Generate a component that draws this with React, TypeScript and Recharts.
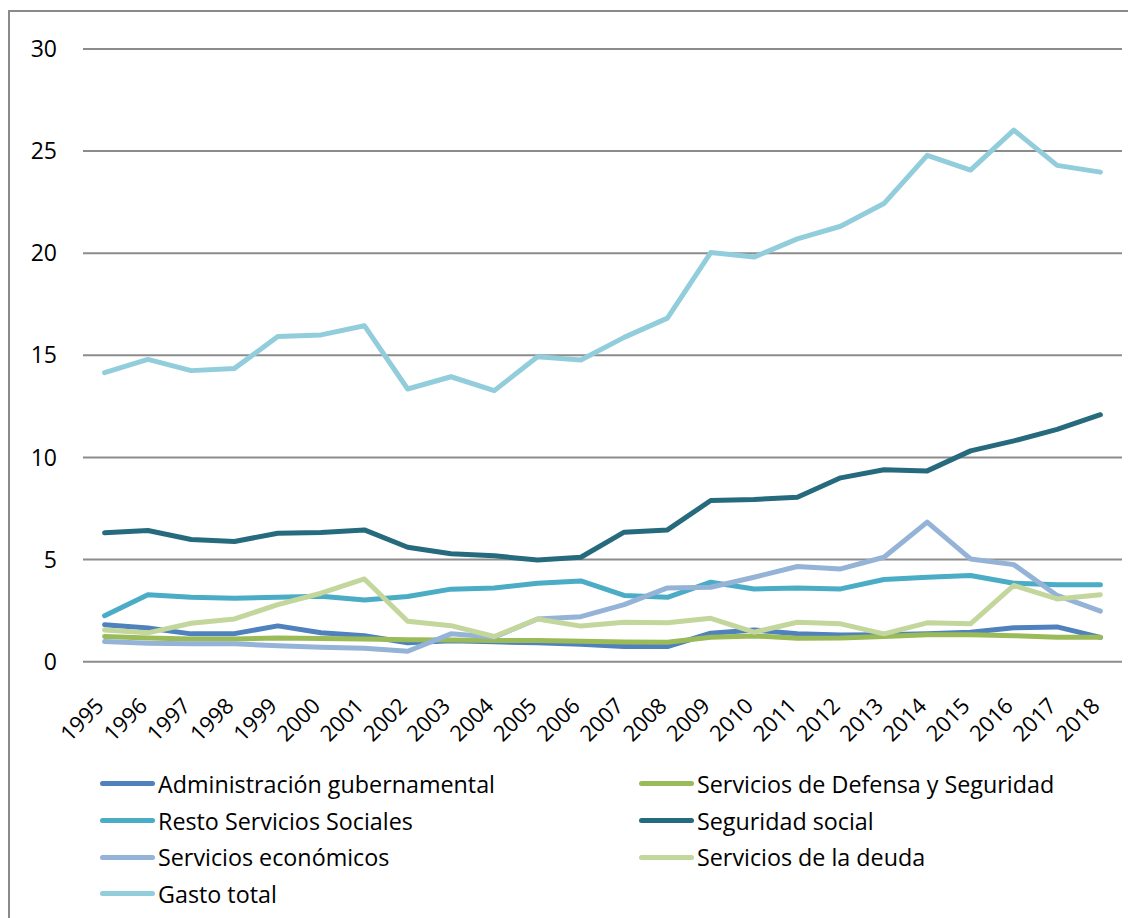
import React from 'react'
import { LineChart, Line, XAxis, YAxis, CartesianGrid, Legend } from 'recharts'

const years = ['1995', '1996', '1997', '1998', '1999', '2000', '2001', '2002', '2003', '2004', '2005', '2006',
    '2007', '2008', '2009', '2010', '2011', '2012', '2013', '2014', '2015', '2016', '2017', '2018']

const admin = [1.81, 1.65, 1.36, 1.37, 1.75, 1.41, 1.27, 0.92, 1.02, 0.97, 0.92, 0.85, 0.74, 0.74, 1.39, 1.55, 1.36, 1.3, 1.32, 1.36, 1.44, 1.66, 1.7, 1.19]
const defensa = [1.23, 1.16, 1.11, 1.11, 1.16, 1.13, 1.11, 1.07, 1.06, 1.03, 1.03, 1.0, 0.96, 0.95, 1.19, 1.26, 1.14, 1.16, 1.23, 1.32, 1.32, 1.27, 1.19, 1.19]
const resto = [2.25, 3.28, 3.15, 3.1, 3.15, 3.2, 3.02, 3.19, 3.55, 3.61, 3.84, 3.95, 3.24, 3.15, 3.89, 3.56, 3.61, 3.56, 4.02, 4.13, 4.22, 3.84, 3.77, 3.77]
const seguridad = [6.31, 6.42, 5.98, 5.88, 6.29, 6.32, 6.45, 5.6, 5.28, 5.18, 4.98, 5.11, 6.34, 6.45, 7.89, 7.94, 8.05, 9.0, 9.4, 9.34, 10.32, 10.81, 11.37, 12.09]
const economicos = [0.98, 0.9, 0.87, 0.87, 0.78, 0.7, 0.65, 0.51, 1.36, 1.2, 2.09, 2.2, 2.79, 3.61, 3.64, 4.13, 4.66, 4.54, 5.11, 6.83, 5.03, 4.75, 3.24, 2.47]
const deuda = [1.55, 1.41, 1.88, 2.09, 2.79, 3.35, 4.05, 1.98, 1.76, 1.23, 2.09, 1.74, 1.93, 1.9, 2.12, 1.44, 1.93, 1.85, 1.36, 1.9, 1.85, 3.73, 3.07, 3.28]
const gasto = [14.15, 14.8, 14.25, 14.36, 15.92, 16.0, 16.45, 13.35, 13.95, 13.27, 14.93, 14.77, 15.88, 16.82, 20.03, 19.81, 20.7, 21.32, 22.43, 24.79, 24.07, 26.03, 24.3, 23.97]

const yTicks = [0, 5, 10, 15, 20, 25, 30]

const series = [
    { key: 'admin', name: 'Administración gubernamental', color: '#4F81BD', values: admin },
    { key: 'defensa', name: 'Servicios de Defensa y Seguridad', color: '#9BBB59', values: defensa },
    { key: 'resto', name: 'Resto Servicios Sociales', color: '#4BACC6', values: resto },
    { key: 'seguridad', name: 'Seguridad social', color: '#266B7D', values: seguridad },
    { key: 'economicos', name: 'Servicios económicos', color: '#95B3D7', values: economicos },
    { key: 'deuda', name: 'Servicios de la deuda', color: '#C3D69B', values: deuda },
    { key: 'gasto', name: 'Gasto total', color: '#92CDDC', values: gasto },
]

const data = years.map((year, i) => {
    const row: any = { year }
    series.forEach(s => { row[s.key] = s.values[i] })
    return row
})

const FONT = '"Open Sans", sans-serif'

const YearTick = ({ x, y, payload }: any) => (
    <g transform={`translate(${x - 5},${y + 32})`}>
        <text textAnchor="end" transform="rotate(-45)" fontSize={22} fontFamily={FONT} fill="#000" dy={8}>
            {payload.value}
        </text>
    </g>
)

const renderLegend = () => (
    <div style={{ display: 'grid', gridTemplateColumns: '539px 1fr', paddingLeft: 90, fontFamily: FONT, fontSize: 23.3, color: '#000' }}>
        {series.map(s => (
            <div key={s.key} style={{ display: 'flex', alignItems: 'center', height: 36.6 }}>
                <span style={{ display: 'inline-block', width: 55, height: 5, borderRadius: 3, background: s.color, marginRight: 3 }} />
                <span>{s.name}</span>
            </div>
        ))}
    </div>
)

export default function App() {
    return (
        <div style={{ paddingTop: 2 }}>
            <div style={{ borderLeft: '2px solid #8a8a8a', borderTop: '2px solid #8a8a8a', width: 1126, height: 906 }}>
                <LineChart width={1126} height={906} data={data} margin={{ top: 37, right: 14, bottom: 6, left: 0 }}>
                    <CartesianGrid vertical={false} stroke="#8c8c8c" strokeWidth={2} />
                    <XAxis dataKey="year" axisLine={false} tickLine={false} interval={0} height={104}
                        padding={{ left: 21.6, right: 21.6 }} tick={<YearTick />} />
                    <YAxis domain={[0, 30]} ticks={yTicks} axisLine={false} tickLine={false} tickSize={0} tickMargin={26} width={73}
                        tick={{ fontSize: 23, fontFamily: FONT, fill: '#000' }} />
                    <Legend verticalAlign="bottom" content={renderLegend} />
                    {series.map(s => (
                        <Line key={s.key} type="linear" dataKey={s.key} name={s.name} stroke={s.color} strokeWidth={5}
                            strokeLinecap="round" strokeLinejoin="round" dot={false} isAnimationActive={false} />
                    ))}
                </LineChart>
            </div>
        </div>
    )
}
